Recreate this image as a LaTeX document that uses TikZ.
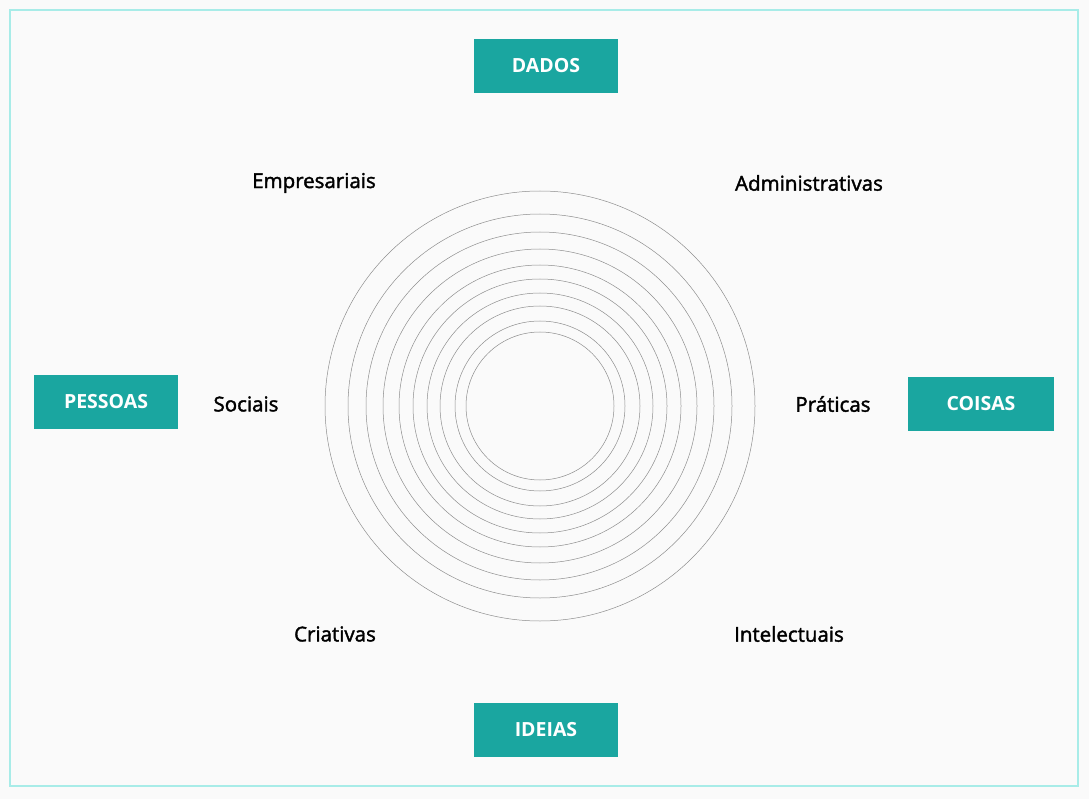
\documentclass[tikz,border=0pt]{standalone}
\usepackage{fontspec}
\setmainfont{Open Sans}
\newfontfamily\lblfont[FakeBold=1.8]{Open Sans}
\definecolor{teal1}{HTML}{1AA6A0}
\definecolor{frame1}{HTML}{A8ECE8}
\definecolor{bg1}{HTML}{FAFAFA}
\definecolor{ring1}{HTML}{8E8E8E}

\begin{document}
\begin{tikzpicture}[x=1pt,y=-1pt,
  catbox/.style={fill=teal1,text=white,font=\fontsize{19.5}{22}\selectfont\bfseries,minimum width=144pt,minimum height=54pt,inner sep=0pt},
  ringlbl/.style={font=\lblfont\fontsize{20.5}{23}\selectfont,text=black,inner sep=0pt}]
  \fill[bg1] (0,0) rectangle (1089,799);
  \useasboundingbox (0,0) rectangle (1089,799);
  \draw[frame1,line width=2pt] (10,10) rectangle (1078,786);
  \foreach \r in {215,192,174,157,141,127,113,100,85,74}
    \draw[ring1,line width=0.5pt] (540,406) circle (\r);
  \node[catbox] (dados) at (546,66) {DADOS};
  \node[catbox] (pessoas) at (106,401.5) {PESSOAS};
  \node[catbox,minimum width=146pt] (coisas) at (981,404) {COISAS};
  \node[catbox] (ideias) at (546,730) {IDEIAS};
  \node[ringlbl] (empresariais) at (314,183) {Empresariais};
  \node[ringlbl] (administrativas) at (809,183) {Administrativas};
  \node[ringlbl] (sociais) at (246,404) {Sociais};
  \node[ringlbl] (praticas) at (833,404) {Práticas};
  \node[ringlbl] (criativas) at (335,634) {Criativas};
  \node[ringlbl] (intelectuais) at (789,634) {Intelectuais};
\end{tikzpicture}
\end{document}
